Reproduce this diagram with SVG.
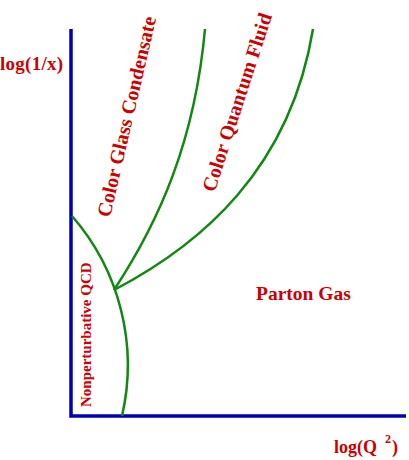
<svg xmlns="http://www.w3.org/2000/svg" width="409" height="460" viewBox="0 0 409 460">
<style>
.lbl{font-family:"Liberation Serif","Times New Roman",serif;font-weight:bold;fill:#cc0000}
.axis{fill:none;stroke:#0000b4;stroke-width:3.5}
.bound{fill:none;stroke:#118811;stroke-width:2.5}
</style>
<rect width="409" height="460" fill="#ffffff"/>
<g id="axes">
<path class="axis" d="M71,29 V416 H406"/>
</g>
<g id="connectors">
<path class="bound" d="M72,216 A227,227 0 0 1 122,416"/>
<path class="bound" d="M114,290 C160,220 195,140 205,29"/>
<path class="bound" d="M114,290 C200,245 290,170 313,29"/>
</g>
<g id="y-label"><text class="lbl" x="0" y="70" font-size="19" textLength="63">log(1/x)</text></g>
<g id="x-label"><text class="lbl" x="334" y="453" font-size="18">log(Q<tspan x="385" y="443" font-size="12">2</tspan><tspan x="392" y="453">)</tspan></text></g>
<g id="cgc"><text class="lbl" font-size="20" transform="translate(110,218) rotate(-77)">Color Glass Condensate</text></g>
<g id="cqf"><text class="lbl" font-size="20" transform="translate(214.5,193) rotate(-72)">Color Quantum Fluid</text></g>
<g id="nonpert"><text class="lbl" font-size="15" transform="translate(90.5,407) rotate(-90)">Nonperturbative QCD</text></g>
<g id="parton"><text class="lbl" x="256" y="300" font-size="19.5">Parton Gas</text></g>
</svg>
